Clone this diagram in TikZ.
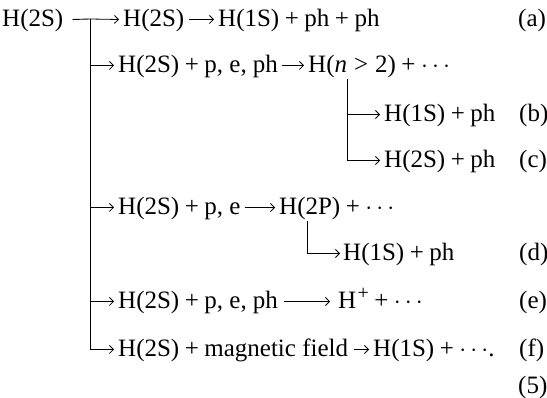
\documentclass[tikz,border=0pt]{standalone}
\usepackage{fontspec}
\setmainfont{Liberation Serif}
\usetikzlibrary{arrows.meta,calc}
\tikzset{
  txt/.style={anchor=base west, inner sep=0pt, font=\fontsize{25}{30}\selectfont},
  lbl/.style={anchor=base west, inner sep=0pt, font=\fontsize{25}{30}\selectfont},
  ln/.style={line width=0.9pt},
  arr/.style={line width=0.8pt, -{Straight Barb[length=4pt,width=8pt]}},
}
\newcommand{\pl}{\hspace{0.22em}+\hspace{0.22em}}
\begin{document}
\begin{tikzpicture}[x=1pt,y=-1pt]
\useasboundingbox (0,0) rectangle (547,398);
% nodes
\node[txt] (h0) at (2,27) {H(2S)};
\node[txt] (a1) at (123,27) {H(2S)};
\node[txt] (a2) at (218,27) {H(1S)\pl ph\pl ph};
\node[lbl] (la) at (518,27) {(a)};
\node[txt] (r1) at (118,73) {H(2S)\pl p, e, ph};
\node[txt] (r2) at (308,73) {H(\textit{n}\hspace{0.28em}>\hspace{0.28em}2)\pl$\cdots$};
\node[txt] (b1) at (384,122) {H(1S)\pl ph};
\node[lbl] (lb) at (519,122) {(b)};
\node[txt] (c1) at (384,168) {H(2S)\pl ph};
\node[lbl] (lc) at (519,168) {(c)};
\node[txt] (p1) at (118,215) {H(2S)\pl p, e};
\node[txt] (p2) at (279,215) {H(2P)\pl$\cdots$};
\node[txt] (d1) at (343,261) {H(1S)\pl ph};
\node[lbl] (ld) at (519,261) {(d)};
\node[txt] (e1) at (118,309) {H(2S)\pl p, e, ph};
\node[txt] (e2) at (338,309) {H\hspace{0.05em}\raisebox{0.40em}{\fontsize{20}{22}\selectfont +}\pl$\cdots$};
\node[lbl] (le) at (519,309) {(e)};
\node[txt] (f1) at (118,357) {H(2S)\pl magnetic field};
\node[txt] (f2) at (373,357) {H(1S)\pl$\cdots$.};
\node[lbl] (lf) at (519,357) {(f)};
\node[lbl] (l5) at (518,394) {(5)};
% entry points
\coordinate (a1in) at ($(a1.base west)+(-4pt,7.5pt)$);
\coordinate (r1in) at ($(r1.base west)+(-4pt,7.5pt)$);
\coordinate (p1in) at ($(p1.base west)+(-4pt,7.5pt)$);
\coordinate (e1in) at ($(e1.base west)+(-4pt,7.5pt)$);
\coordinate (f1in) at ($(f1.base west)+(-4pt,7.5pt)$);
\coordinate (b1in) at ($(b1.base west)+(-4pt,7.5pt)$);
\coordinate (c1in) at ($(c1.base west)+(-4pt,7.5pt)$);
\coordinate (d1in) at ($(d1.base west)+(-3pt,7.5pt)$);
% trunk
\coordinate (j0) at (90,19);
\draw[ln] ($(h0.base east)+(9pt,7.5pt)$) -- (j0);
\draw[ln] (j0) -- (j0 |- f1in);
\draw[arr] (j0) -- (a1in);
\draw[arr] (j0 |- r1in) -- (r1in);
\draw[arr] (j0 |- p1in) -- (p1in);
\draw[arr] (j0 |- e1in) -- (e1in);
\draw[arr] (j0 |- f1in) -- (f1in);
% inline arrows
\draw[arr] ($(a1.base east)+(4pt,7.5pt)$) -- ($(a2.base west)+(-4pt,7.5pt)$);
\draw[arr] ($(r1.base east)+(4pt,7.5pt)$) -- ($(r2.base west)+(-4pt,7.5pt)$);
\draw[arr] ($(p1.base east)+(4pt,7.5pt)$) -- ($(p2.base west)+(-4pt,7.5pt)$);
\draw[arr] ($(e1.base east)+(6pt,7.5pt)$) -- ($(e2.base west)+(-8pt,7.5pt)$);
\draw[arr] ($(f1.base east)+(6pt,7.5pt)$) -- ($(f2.base west)+(-4pt,7.5pt)$);
% sub-branches
\coordinate (nb) at ($(r2.base west)+(39pt,-6pt)$);
\draw[ln] (nb) -- (nb |- c1in);
\draw[arr] (nb |- b1in) -- (b1in);
\draw[arr] (nb |- c1in) -- (c1in);
\coordinate (pb) at ($(p2.base west)+(28pt,-6pt)$);
\draw[ln] (pb) -- (pb |- d1in);
\draw[arr] (pb |- d1in) -- (d1in);
\end{tikzpicture}
\end{document}
